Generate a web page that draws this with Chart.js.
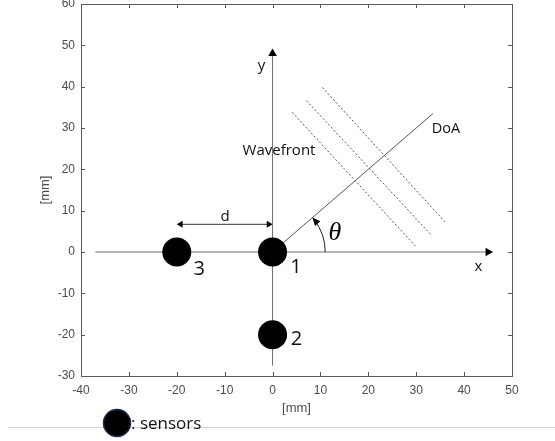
<!DOCTYPE html>
<html>
<head>
<meta charset="utf-8">
<script src="https://cdn.jsdelivr.net/npm/chart.js@4/dist/chart.umd.min.js"></script>
<style>
  html, body { margin: 0; padding: 0; background: #fff; }
  canvas { display: block; }
</style>
</head>
<body>
<canvas id="c" width="555" height="441"></canvas>
<script>
// Sensor positions [mm]
const sensorX = [0, 0, -20];
const sensorY = [0, -20, 0];

// Coordinate axes drawn inside the plot (start, end)
const xAxisLineX = [-37, 45];
const xAxisLineY = [0, 0];
const yAxisLineX = [0, 0];
const yAxisLineY = [-27.5, 48];

// Direction of arrival
const doaX = [0, 33.5];
const doaY = [0, 33.5];

// Three plane wavefronts (start, end)
const wave1X = [4.1, 30.1];
const wave1Y = [33.8, 1.1];
const wave2X = [7.1, 33.3];
const wave2Y = [36.6, 3.9];
const wave3X = [10.4, 36.3];
const wave3Y = [39.8, 6.9];

// Sensor spacing arrow d
const spacingX = [-19.2, -0.8];
const spacingY = [6.7, 6.7];

// Angle marker radius along the x axis [mm]
const thetaRadius = 11;

// Tick values
const xTicks = [-40, -30, -20, -10, 0, 10, 20, 30, 40, 50];
const yTicks = [-30, -20, -10, 0, 10, 20, 30, 40, 50, 60];

// Text annotations
const noteText = ['y', 'x', 'Wavefront', 'DoA', 'd', '1', '2', '3'];
const noteX = [-2.3, 43, 1.35, 36.2, -9.9, 4.9, 5.0, -15.3];
const noteY = [45.1, -3.6, 24.5, 29.9, 8.5, -3.6, -21, -4.1];

const pts = (xs, ys) => xs.map((v, i) => ({ x: v, y: ys[i] }));

const labelFont = '"Open Sans", "Noto Sans", sans-serif';
const noteSizes = { 'y': 15, 'x': 15, 'Wavefront': 15, 'DoA': 14.5, 'd': 15, '1': 20, '2': 20, '3': 20 };

const framePlugin = {
  id: 'frame',
  beforeDatasetsDraw(chart) {
    const { ctx, chartArea: a, scales: { x, y } } = chart;
    ctx.save();
    ctx.strokeStyle = '#5a5a5a';
    ctx.lineWidth = 1;
    ctx.strokeRect(Math.round(a.left) + 0.5, Math.round(a.top) + 0.5,
      Math.round(a.right - a.left), Math.round(a.bottom - a.top));
    ctx.beginPath();
    xTicks.forEach(v => {
      const p = Math.round(x.getPixelForValue(v)) + 0.5;
      ctx.moveTo(p, a.top); ctx.lineTo(p, a.top + 4);
      ctx.moveTo(p, a.bottom); ctx.lineTo(p, a.bottom - 4);
    });
    yTicks.forEach(v => {
      const p = Math.round(y.getPixelForValue(v)) + 0.5;
      ctx.moveTo(a.left, p); ctx.lineTo(a.left + 4, p);
      ctx.moveTo(a.right, p); ctx.lineTo(a.right - 4, p);
    });
    ctx.stroke();
    ctx.restore();
  },
  afterDatasetsDraw(chart) {
    const { ctx, scales: { x, y } } = chart;
    ctx.save();
    // angle arc between x axis and DoA
    const cx = x.getPixelForValue(0), cy = y.getPixelForValue(0);
    const r = x.getPixelForValue(thetaRadius) - cx;
    const ang = Math.atan2(y.getPixelForValue(doaY[1]) - cy, x.getPixelForValue(doaX[1]) - cx);
    ctx.strokeStyle = '#222';
    ctx.lineWidth = 1;
    ctx.beginPath();
    ctx.arc(cx, cy, r, 0, ang + 0.06, true);
    ctx.stroke();
    // arrowhead at DoA end of the arc
    const tx = cx + r * Math.cos(ang), ty = cy + r * Math.sin(ang);
    const dir = ang - Math.PI / 2; // tangent pointing counter-clockwise
    ctx.fillStyle = '#000';
    ctx.beginPath();
    ctx.moveTo(tx, ty);
    ctx.lineTo(tx - 8 * Math.cos(dir) + 3.5 * Math.cos(dir + Math.PI / 2), ty - 8 * Math.sin(dir) + 3.5 * Math.sin(dir + Math.PI / 2));
    ctx.lineTo(tx - 8 * Math.cos(dir) - 3.5 * Math.cos(dir + Math.PI / 2), ty - 8 * Math.sin(dir) - 3.5 * Math.sin(dir + Math.PI / 2));
    ctx.closePath();
    ctx.fill();
    // theta symbol
    ctx.font = 'italic 26px "Liberation Serif", "DejaVu Serif", serif';
    ctx.textAlign = 'center';
    ctx.textBaseline = 'middle';
    ctx.fillText('\u03B8', x.getPixelForValue(13), y.getPixelForValue(4.5));
    // text annotations
    noteText.forEach((t, i) => {
      ctx.font = noteSizes[t] + 'px ' + labelFont;
      ctx.fillStyle = '#111';
      ctx.fillText(t, x.getPixelForValue(noteX[i]), y.getPixelForValue(noteY[i]));
    });
    ctx.restore();
  },
  afterDraw(chart) {
    const { ctx, width } = chart;
    ctx.save();
    // separator line and sensor key
    ctx.strokeStyle = '#d4d4d4';
    ctx.lineWidth = 1;
    ctx.beginPath();
    ctx.moveTo(8, 427.5); ctx.lineTo(width, 427.5);
    ctx.stroke();
    ctx.fillStyle = '#000';
    ctx.strokeStyle = '#1c2a4a';
    ctx.lineWidth = 1.5;
    ctx.beginPath();
    ctx.arc(117, 423, 13.5, 0, Math.PI * 2);
    ctx.fill();
    ctx.stroke();
    ctx.font = '17px ' + labelFont;
    ctx.fillStyle = '#111';
    ctx.textAlign = 'left';
    ctx.textBaseline = 'middle';
    ctx.fillText(': sensors', 131, 424);
    ctx.restore();
  }
};

const lineDs = (xs, ys, extra) => Object.assign({
  data: pts(xs, ys),
  showLine: true,
  borderColor: '#6e6e6e',
  borderWidth: 1,
  pointRadius: 0,
  pointHoverRadius: 0,
  fill: false
}, extra);

const arrowHead = {
  pointStyle: 'triangle',
  pointBackgroundColor: '#000',
  pointBorderWidth: 0
};

const axisFont = { family: '"Liberation Sans", Arial, sans-serif', size: 12 };
const titleFont = { family: '"Liberation Sans", Arial, sans-serif', size: 13 };

new Chart(document.getElementById('c'), {
  type: 'scatter',
  data: {
    datasets: [
      {
        label: 'sensors',
        data: pts(sensorX, sensorY),
        backgroundColor: '#000',
        borderWidth: 0,
        pointRadius: 14.5,
        pointHoverRadius: 14.5
      },
      lineDs(xAxisLineX, xAxisLineY, Object.assign({ pointRadius: [0, 5], pointRotation: [0, 90] }, arrowHead)),
      lineDs(yAxisLineX, yAxisLineY, Object.assign({ pointRadius: [0, 5], pointRotation: [0, 0] }, arrowHead)),
      lineDs(spacingX, spacingY, Object.assign({ borderColor: '#333', pointRadius: [4, 4], pointRotation: [-90, 90] }, arrowHead)),
      lineDs(doaX, doaY, { borderColor: '#555' }),
      lineDs(wave1X, wave1Y, { borderColor: '#555', borderDash: [2, 2] }),
      lineDs(wave2X, wave2Y, { borderColor: '#555', borderDash: [2, 2] }),
      lineDs(wave3X, wave3Y, { borderColor: '#555', borderDash: [2, 2] })
    ]
  },
  options: {
    responsive: false,
    animation: false,
    events: [],
    layout: { autoPadding: false, padding: { left: 0, top: 4, right: 43, bottom: 0 } },
    plugins: { legend: { display: false }, tooltip: { enabled: false } },
    scales: {
      x: {
        type: 'linear',
        min: -40, max: 50,
        afterBuildTicks: s => { s.ticks = xTicks.map(v => ({ value: v })); },
        afterFit: s => { s.height = 65; s.paddingLeft = 0; s.paddingRight = 0; },
        grid: { display: false, drawTicks: false },
        border: { display: false },
        ticks: { autoSkip: false, maxRotation: 0, padding: 7, color: '#4d4d4d', font: axisFont },
        title: { display: true, text: '[mm]', color: '#4d4d4d', padding: { top: 0, bottom: 25 }, font: titleFont }
      },
      y: {
        type: 'linear',
        min: -30, max: 60,
        afterBuildTicks: s => { s.ticks = yTicks.map(v => ({ value: v })); },
        afterFit: s => { s.width = 81; s.paddingTop = 0; s.paddingBottom = 0; },
        grid: { display: false, drawTicks: false },
        border: { display: false },
        ticks: { autoSkip: false, padding: 6, color: '#4d4d4d', font: axisFont },
        title: { display: true, text: '[mm]', color: '#4d4d4d', padding: { top: 38, bottom: 0 }, font: titleFont }
      }
    }
  },
  plugins: [framePlugin]
});
</script>
</body>
</html>
